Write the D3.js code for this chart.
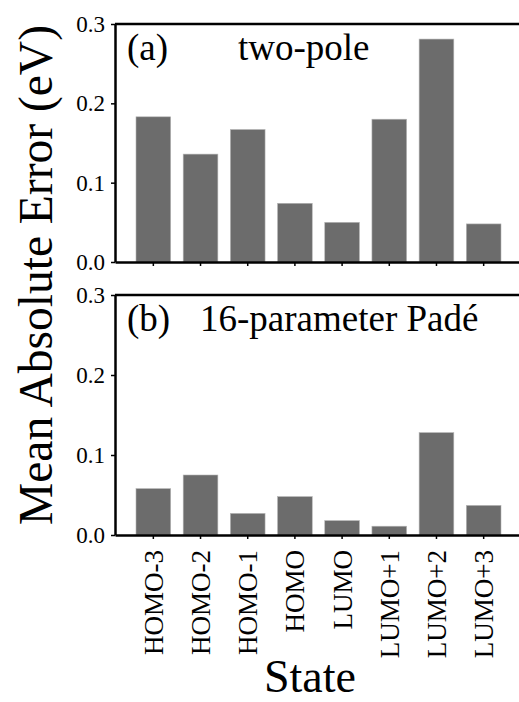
<!DOCTYPE html>
<html>
<head>
<meta charset="utf-8">
<script src="https://cdn.jsdelivr.net/npm/d3@7"></script>
<style>
body { margin: 0; background: #fff; overflow: hidden; }
text { font-family: "Liberation Serif", "Times New Roman", serif; fill: #000; }
</style>
</head>
<body>
<script>
// data
var states = ["HOMO-3", "HOMO-2", "HOMO-1", "HOMO", "LUMO", "LUMO+1", "LUMO+2", "LUMO+3"];
var twoPole = [0.183, 0.136, 0.167, 0.074, 0.050, 0.180, 0.281, 0.048];
var pade16 = [0.058, 0.075, 0.027, 0.048, 0.018, 0.011, 0.128, 0.037];
var yTicks = [0.0, 0.1, 0.2, 0.3];
var panelTags = ["(a)", "(b)"];
var panelNames = ["two-pole", "16-parameter Padé"];

// canvas and plot box (right edge of the frame falls just outside the picture)
var W = 519, H = 702;
var left = 115, right = 522;
var panels = [
  {top: 24, bottom: 262, values: twoPole, tag: panelTags[0], name: panelNames[0], nameX: 238, labels: false},
  {top: 295, bottom: 535, values: pade16, tag: panelTags[1], name: panelNames[1], nameX: 200, labels: true}
];

var svg = d3.select("body").append("svg")
    .attr("width", W)
    .attr("height", H);

// shared x scale
var x = d3.scaleBand()
    .domain(states)
    .range([left, right])
    .paddingInner(0.265)
    .paddingOuter(0.445);

function drawPanel(p) {
  var y = d3.scaleLinear().domain([0, 0.3]).range([p.bottom, p.top]);
  var g = svg.append("g");

  // bars
  g.selectAll("rect")
    .data(p.values)
    .enter().append("rect")
      .attr("x", function(d, i) { return x(states[i]); })
      .attr("width", x.bandwidth())
      .attr("y", function(d) { return y(d); })
      .attr("height", function(d) { return y(0) - y(d); })
      .attr("fill", "#6c6c6c")
      .attr("stroke", "#b5b5b5")
      .attr("stroke-width", 0.6);

  // top and right frame
  g.append("line")
    .attr("x1", left).attr("x2", right)
    .attr("y1", p.top).attr("y2", p.top)
    .attr("stroke", "#000").attr("stroke-width", 2.5);
  g.append("line")
    .attr("x1", right).attr("x2", right)
    .attr("y1", p.top).attr("y2", p.bottom)
    .attr("stroke", "#000").attr("stroke-width", 2.5);

  // y axis
  var ya = g.append("g")
    .attr("transform", "translate(" + left + ",0)")
    .call(d3.axisLeft(y).tickValues(yTicks).tickFormat(d3.format(".1f")).tickSize(4).tickSizeOuter(0).tickPadding(6));
  ya.attr("font-family", null);
  ya.select(".domain").attr("stroke-width", 2.5);
  ya.selectAll(".tick line").attr("stroke-width", 1.5);
  ya.selectAll(".tick text")
    .style("font-family", '"Liberation Serif", serif')
    .style("font-size", "23px")
    .attr("fill", "#000");

  // x axis
  var xa = g.append("g")
    .attr("transform", "translate(0," + p.bottom + ")")
    .call(d3.axisBottom(x).tickSize(4).tickSizeOuter(0));
  xa.attr("font-family", null);
  xa.select(".domain").attr("stroke-width", 2.5);
  xa.selectAll(".tick line").attr("stroke-width", 1.5);
  if (p.labels) {
    xa.selectAll(".tick text")
      .style("font-family", '"Liberation Serif", serif')
      .style("font-size", "27px")
      .attr("fill", "#000")
      .attr("text-anchor", "end")
      .attr("transform", "rotate(-90)")
      .attr("x", -15)
      .attr("y", 0)
      .attr("dy", "0.35em");
  } else {
    xa.selectAll(".tick text").remove();
  }

  // panel labels
  g.append("text")
    .attr("x", 127).attr("y", p.top + 36)
    .style("font-size", "37px")
    .text(p.tag);
  g.append("text")
    .attr("x", p.nameX).attr("y", p.top + 36)
    .style("font-size", "37px")
    .text(p.name);
}

panels.forEach(drawPanel);

// axis titles
svg.append("text")
  .attr("transform", "translate(52,275) rotate(-90)")
  .attr("text-anchor", "middle")
  .style("font-family", '"Liberation Serif", serif')
  .style("font-size", "47.5px")
  .text("Mean Absolute Error (eV)");

svg.append("text")
  .attr("x", 310).attr("y", 692)
  .attr("text-anchor", "middle")
  .style("font-family", '"Liberation Serif", serif')
  .style("font-size", "46px")
  .text("State");
</script>
</body>
</html>
